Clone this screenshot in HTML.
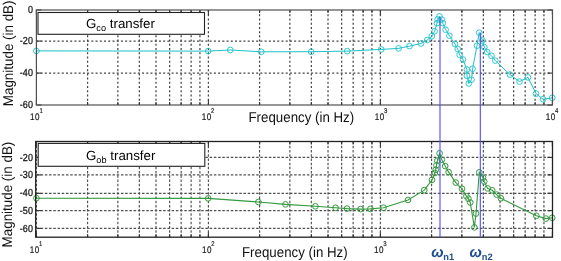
<!DOCTYPE html><html><head><meta charset="utf-8"><style>html,body{margin:0;padding:0;background:#fff;width:561px;height:261px;overflow:hidden}svg{display:block;filter:blur(0.25px)}text{font-family:"Liberation Sans",Arial,sans-serif;text-rendering:geometricPrecision}</style></head><body>
<svg width="561" height="261" viewBox="0 0 561 261">
<rect width="561" height="261" fill="#fff"/>
<g stroke="#444" stroke-width="1.25" stroke-dasharray="2,2.226"><line x1="87.58" y1="10.00" x2="87.58" y2="105.00"/><line x1="117.86" y1="10.00" x2="117.86" y2="105.00"/><line x1="139.35" y1="10.00" x2="139.35" y2="105.00"/><line x1="156.02" y1="10.00" x2="156.02" y2="105.00"/><line x1="169.64" y1="10.00" x2="169.64" y2="105.00"/><line x1="181.16" y1="10.00" x2="181.16" y2="105.00"/><line x1="191.13" y1="10.00" x2="191.13" y2="105.00"/><line x1="199.93" y1="10.00" x2="199.93" y2="105.00"/><line x1="208.40" y1="10.00" x2="208.40" y2="105.00"/><line x1="259.58" y1="10.00" x2="259.58" y2="105.00"/><line x1="289.86" y1="10.00" x2="289.86" y2="105.00"/><line x1="311.35" y1="10.00" x2="311.35" y2="105.00"/><line x1="328.02" y1="10.00" x2="328.02" y2="105.00"/><line x1="341.64" y1="10.00" x2="341.64" y2="105.00"/><line x1="353.16" y1="10.00" x2="353.16" y2="105.00"/><line x1="363.13" y1="10.00" x2="363.13" y2="105.00"/><line x1="371.93" y1="10.00" x2="371.93" y2="105.00"/><line x1="380.40" y1="10.00" x2="380.40" y2="105.00"/><line x1="431.58" y1="10.00" x2="431.58" y2="105.00"/><line x1="461.86" y1="10.00" x2="461.86" y2="105.00"/><line x1="483.35" y1="10.00" x2="483.35" y2="105.00"/><line x1="500.02" y1="10.00" x2="500.02" y2="105.00"/><line x1="513.64" y1="10.00" x2="513.64" y2="105.00"/><line x1="525.16" y1="10.00" x2="525.16" y2="105.00"/><line x1="535.13" y1="10.00" x2="535.13" y2="105.00"/><line x1="543.93" y1="10.00" x2="543.93" y2="105.00"/><line x1="36.40" y1="41.10" x2="552.50" y2="41.10"/><line x1="36.40" y1="73.10" x2="552.50" y2="73.10"/></g>
<g stroke="#333" stroke-width="1.1"><line x1="87.58" y1="105.00" x2="87.58" y2="102.00"/><line x1="87.58" y1="10.00" x2="87.58" y2="13.00"/><line x1="117.86" y1="105.00" x2="117.86" y2="102.00"/><line x1="117.86" y1="10.00" x2="117.86" y2="13.00"/><line x1="139.35" y1="105.00" x2="139.35" y2="102.00"/><line x1="139.35" y1="10.00" x2="139.35" y2="13.00"/><line x1="156.02" y1="105.00" x2="156.02" y2="102.00"/><line x1="156.02" y1="10.00" x2="156.02" y2="13.00"/><line x1="169.64" y1="105.00" x2="169.64" y2="102.00"/><line x1="169.64" y1="10.00" x2="169.64" y2="13.00"/><line x1="181.16" y1="105.00" x2="181.16" y2="102.00"/><line x1="181.16" y1="10.00" x2="181.16" y2="13.00"/><line x1="191.13" y1="105.00" x2="191.13" y2="102.00"/><line x1="191.13" y1="10.00" x2="191.13" y2="13.00"/><line x1="199.93" y1="105.00" x2="199.93" y2="102.00"/><line x1="199.93" y1="10.00" x2="199.93" y2="13.00"/><line x1="208.40" y1="105.00" x2="208.40" y2="100.00"/><line x1="208.40" y1="10.00" x2="208.40" y2="15.00"/><line x1="259.58" y1="105.00" x2="259.58" y2="102.00"/><line x1="259.58" y1="10.00" x2="259.58" y2="13.00"/><line x1="289.86" y1="105.00" x2="289.86" y2="102.00"/><line x1="289.86" y1="10.00" x2="289.86" y2="13.00"/><line x1="311.35" y1="105.00" x2="311.35" y2="102.00"/><line x1="311.35" y1="10.00" x2="311.35" y2="13.00"/><line x1="328.02" y1="105.00" x2="328.02" y2="102.00"/><line x1="328.02" y1="10.00" x2="328.02" y2="13.00"/><line x1="341.64" y1="105.00" x2="341.64" y2="102.00"/><line x1="341.64" y1="10.00" x2="341.64" y2="13.00"/><line x1="353.16" y1="105.00" x2="353.16" y2="102.00"/><line x1="353.16" y1="10.00" x2="353.16" y2="13.00"/><line x1="363.13" y1="105.00" x2="363.13" y2="102.00"/><line x1="363.13" y1="10.00" x2="363.13" y2="13.00"/><line x1="371.93" y1="105.00" x2="371.93" y2="102.00"/><line x1="371.93" y1="10.00" x2="371.93" y2="13.00"/><line x1="380.40" y1="105.00" x2="380.40" y2="100.00"/><line x1="380.40" y1="10.00" x2="380.40" y2="15.00"/><line x1="431.58" y1="105.00" x2="431.58" y2="102.00"/><line x1="431.58" y1="10.00" x2="431.58" y2="13.00"/><line x1="461.86" y1="105.00" x2="461.86" y2="102.00"/><line x1="461.86" y1="10.00" x2="461.86" y2="13.00"/><line x1="483.35" y1="105.00" x2="483.35" y2="102.00"/><line x1="483.35" y1="10.00" x2="483.35" y2="13.00"/><line x1="500.02" y1="105.00" x2="500.02" y2="102.00"/><line x1="500.02" y1="10.00" x2="500.02" y2="13.00"/><line x1="513.64" y1="105.00" x2="513.64" y2="102.00"/><line x1="513.64" y1="10.00" x2="513.64" y2="13.00"/><line x1="525.16" y1="105.00" x2="525.16" y2="102.00"/><line x1="525.16" y1="10.00" x2="525.16" y2="13.00"/><line x1="535.13" y1="105.00" x2="535.13" y2="102.00"/><line x1="535.13" y1="10.00" x2="535.13" y2="13.00"/><line x1="543.93" y1="105.00" x2="543.93" y2="102.00"/><line x1="543.93" y1="10.00" x2="543.93" y2="13.00"/><line x1="36.40" y1="105.00" x2="36.40" y2="100.00"/><line x1="36.40" y1="10.00" x2="36.40" y2="15.00"/><line x1="552.40" y1="105.00" x2="552.40" y2="100.00"/><line x1="552.40" y1="10.00" x2="552.40" y2="15.00"/><line x1="36.40" y1="10.00" x2="41.40" y2="10.00"/><line x1="552.50" y1="10.00" x2="547.50" y2="10.00"/><line x1="36.40" y1="41.10" x2="41.40" y2="41.10"/><line x1="552.50" y1="41.10" x2="547.50" y2="41.10"/><line x1="36.40" y1="73.10" x2="41.40" y2="73.10"/><line x1="552.50" y1="73.10" x2="547.50" y2="73.10"/><line x1="36.40" y1="105.00" x2="41.40" y2="105.00"/><line x1="552.50" y1="105.00" x2="547.50" y2="105.00"/></g>
<polyline fill="none" stroke="#1cc0c8" stroke-width="1.0" points="36.4,50.9 208.2,51.1 230.3,50.0 261.3,51.8 311.2,51.7 347.2,51.1 381.2,49.4 398.6,48.4 409.5,46.1 421.0,43.5 427.2,40.0 431.8,36.2 434.6,31.3 437.0,23.2 437.7,19.5 439.5,16.4 441.7,19.5 442.8,23.2 445.6,29.7 449.4,35.7 455.0,44.0 457.7,49.0 459.6,54.8 463.0,59.6 466.9,69.5 466.9,75.8 468.8,83.5 471.5,79.7 472.6,68.8 477.0,45.7 479.2,32.7 482.5,40.5 484.4,47.2 487.2,52.0 491.5,55.8 495.3,60.6 510.0,74.6 519.5,81.6 528.0,77.4 536.0,93.6 543.1,99.3 552.2,97.8"/>
<g fill="none" stroke="#28c4ca" stroke-width="0.95"><circle cx="36.4" cy="50.9" r="2.85"/><circle cx="208.2" cy="51.1" r="2.85"/><circle cx="230.3" cy="50.0" r="2.85"/><circle cx="261.3" cy="51.8" r="2.85"/><circle cx="311.2" cy="51.7" r="2.85"/><circle cx="347.2" cy="51.1" r="2.85"/><circle cx="381.2" cy="49.4" r="2.85"/><circle cx="398.6" cy="48.4" r="2.85"/><circle cx="409.5" cy="46.1" r="2.85"/><circle cx="421.0" cy="43.5" r="2.85"/><circle cx="427.2" cy="40.0" r="2.85"/><circle cx="431.8" cy="36.2" r="2.85"/><circle cx="434.6" cy="31.3" r="2.85"/><circle cx="437.0" cy="23.2" r="2.85"/><circle cx="437.7" cy="19.5" r="2.85"/><circle cx="439.5" cy="16.4" r="2.85"/><circle cx="441.7" cy="19.5" r="2.85"/><circle cx="442.8" cy="23.2" r="2.85"/><circle cx="445.6" cy="29.7" r="2.85"/><circle cx="449.4" cy="35.7" r="2.85"/><circle cx="455.0" cy="44.0" r="2.85"/><circle cx="457.7" cy="49.0" r="2.85"/><circle cx="459.6" cy="54.8" r="2.85"/><circle cx="463.0" cy="59.6" r="2.85"/><circle cx="466.9" cy="69.5" r="2.85"/><circle cx="466.9" cy="75.8" r="2.85"/><circle cx="468.8" cy="83.5" r="2.85"/><circle cx="471.5" cy="79.7" r="2.85"/><circle cx="472.6" cy="68.8" r="2.85"/><circle cx="477.0" cy="45.7" r="2.85"/><circle cx="479.2" cy="32.7" r="2.85"/><circle cx="482.5" cy="40.5" r="2.85"/><circle cx="484.4" cy="47.2" r="2.85"/><circle cx="487.2" cy="52.0" r="2.85"/><circle cx="491.5" cy="55.8" r="2.85"/><circle cx="495.3" cy="60.6" r="2.85"/><circle cx="510.0" cy="74.6" r="2.85"/><circle cx="519.5" cy="81.6" r="2.85"/><circle cx="528.0" cy="77.4" r="2.85"/><circle cx="536.0" cy="93.6" r="2.85"/><circle cx="543.1" cy="99.3" r="2.85"/><circle cx="552.2" cy="97.8" r="2.85"/></g>
<rect x="36.40" y="10.00" width="516.10" height="95.00" fill="none" stroke="#505050" stroke-width="1.2"/>
<g stroke="#505050" stroke-width="1.15" stroke-dasharray="2.5,1.726"><line x1="36.40" y1="141.50" x2="36.40" y2="237.20"/><line x1="87.58" y1="141.50" x2="87.58" y2="237.20"/><line x1="117.86" y1="141.50" x2="117.86" y2="237.20"/><line x1="139.35" y1="141.50" x2="139.35" y2="237.20"/><line x1="156.02" y1="141.50" x2="156.02" y2="237.20"/><line x1="169.64" y1="141.50" x2="169.64" y2="237.20"/><line x1="181.16" y1="141.50" x2="181.16" y2="237.20"/><line x1="191.13" y1="141.50" x2="191.13" y2="237.20"/><line x1="199.93" y1="141.50" x2="199.93" y2="237.20"/><line x1="208.40" y1="141.50" x2="208.40" y2="237.20"/><line x1="259.58" y1="141.50" x2="259.58" y2="237.20"/><line x1="289.86" y1="141.50" x2="289.86" y2="237.20"/><line x1="311.35" y1="141.50" x2="311.35" y2="237.20"/><line x1="328.02" y1="141.50" x2="328.02" y2="237.20"/><line x1="341.64" y1="141.50" x2="341.64" y2="237.20"/><line x1="353.16" y1="141.50" x2="353.16" y2="237.20"/><line x1="363.13" y1="141.50" x2="363.13" y2="237.20"/><line x1="371.93" y1="141.50" x2="371.93" y2="237.20"/><line x1="380.40" y1="141.50" x2="380.40" y2="237.20"/><line x1="431.58" y1="141.50" x2="431.58" y2="237.20"/><line x1="461.86" y1="141.50" x2="461.86" y2="237.20"/><line x1="483.35" y1="141.50" x2="483.35" y2="237.20"/><line x1="500.02" y1="141.50" x2="500.02" y2="237.20"/><line x1="513.64" y1="141.50" x2="513.64" y2="237.20"/><line x1="525.16" y1="141.50" x2="525.16" y2="237.20"/><line x1="535.13" y1="141.50" x2="535.13" y2="237.20"/><line x1="543.93" y1="141.50" x2="543.93" y2="237.20"/><line x1="36.40" y1="157.40" x2="552.50" y2="157.40"/><line x1="36.40" y1="174.90" x2="552.50" y2="174.90"/><line x1="36.40" y1="193.30" x2="552.50" y2="193.30"/><line x1="36.40" y1="210.60" x2="552.50" y2="210.60"/><line x1="36.40" y1="228.40" x2="552.50" y2="228.40"/></g>
<g stroke="#333" stroke-width="1.1"><line x1="87.58" y1="237.20" x2="87.58" y2="234.20"/><line x1="87.58" y1="141.50" x2="87.58" y2="144.50"/><line x1="117.86" y1="237.20" x2="117.86" y2="234.20"/><line x1="117.86" y1="141.50" x2="117.86" y2="144.50"/><line x1="139.35" y1="237.20" x2="139.35" y2="234.20"/><line x1="139.35" y1="141.50" x2="139.35" y2="144.50"/><line x1="156.02" y1="237.20" x2="156.02" y2="234.20"/><line x1="156.02" y1="141.50" x2="156.02" y2="144.50"/><line x1="169.64" y1="237.20" x2="169.64" y2="234.20"/><line x1="169.64" y1="141.50" x2="169.64" y2="144.50"/><line x1="181.16" y1="237.20" x2="181.16" y2="234.20"/><line x1="181.16" y1="141.50" x2="181.16" y2="144.50"/><line x1="191.13" y1="237.20" x2="191.13" y2="234.20"/><line x1="191.13" y1="141.50" x2="191.13" y2="144.50"/><line x1="199.93" y1="237.20" x2="199.93" y2="234.20"/><line x1="199.93" y1="141.50" x2="199.93" y2="144.50"/><line x1="208.40" y1="237.20" x2="208.40" y2="232.20"/><line x1="208.40" y1="141.50" x2="208.40" y2="146.50"/><line x1="259.58" y1="237.20" x2="259.58" y2="234.20"/><line x1="259.58" y1="141.50" x2="259.58" y2="144.50"/><line x1="289.86" y1="237.20" x2="289.86" y2="234.20"/><line x1="289.86" y1="141.50" x2="289.86" y2="144.50"/><line x1="311.35" y1="237.20" x2="311.35" y2="234.20"/><line x1="311.35" y1="141.50" x2="311.35" y2="144.50"/><line x1="328.02" y1="237.20" x2="328.02" y2="234.20"/><line x1="328.02" y1="141.50" x2="328.02" y2="144.50"/><line x1="341.64" y1="237.20" x2="341.64" y2="234.20"/><line x1="341.64" y1="141.50" x2="341.64" y2="144.50"/><line x1="353.16" y1="237.20" x2="353.16" y2="234.20"/><line x1="353.16" y1="141.50" x2="353.16" y2="144.50"/><line x1="363.13" y1="237.20" x2="363.13" y2="234.20"/><line x1="363.13" y1="141.50" x2="363.13" y2="144.50"/><line x1="371.93" y1="237.20" x2="371.93" y2="234.20"/><line x1="371.93" y1="141.50" x2="371.93" y2="144.50"/><line x1="380.40" y1="237.20" x2="380.40" y2="232.20"/><line x1="380.40" y1="141.50" x2="380.40" y2="146.50"/><line x1="431.58" y1="237.20" x2="431.58" y2="234.20"/><line x1="431.58" y1="141.50" x2="431.58" y2="144.50"/><line x1="461.86" y1="237.20" x2="461.86" y2="234.20"/><line x1="461.86" y1="141.50" x2="461.86" y2="144.50"/><line x1="483.35" y1="237.20" x2="483.35" y2="234.20"/><line x1="483.35" y1="141.50" x2="483.35" y2="144.50"/><line x1="500.02" y1="237.20" x2="500.02" y2="234.20"/><line x1="500.02" y1="141.50" x2="500.02" y2="144.50"/><line x1="513.64" y1="237.20" x2="513.64" y2="234.20"/><line x1="513.64" y1="141.50" x2="513.64" y2="144.50"/><line x1="525.16" y1="237.20" x2="525.16" y2="234.20"/><line x1="525.16" y1="141.50" x2="525.16" y2="144.50"/><line x1="535.13" y1="237.20" x2="535.13" y2="234.20"/><line x1="535.13" y1="141.50" x2="535.13" y2="144.50"/><line x1="543.93" y1="237.20" x2="543.93" y2="234.20"/><line x1="543.93" y1="141.50" x2="543.93" y2="144.50"/><line x1="36.40" y1="237.20" x2="36.40" y2="232.20"/><line x1="36.40" y1="141.50" x2="36.40" y2="146.50"/><line x1="552.40" y1="237.20" x2="552.40" y2="232.20"/><line x1="552.40" y1="141.50" x2="552.40" y2="146.50"/><line x1="36.40" y1="157.40" x2="41.40" y2="157.40"/><line x1="552.50" y1="157.40" x2="547.50" y2="157.40"/><line x1="36.40" y1="174.90" x2="41.40" y2="174.90"/><line x1="552.50" y1="174.90" x2="547.50" y2="174.90"/><line x1="36.40" y1="193.30" x2="41.40" y2="193.30"/><line x1="552.50" y1="193.30" x2="547.50" y2="193.30"/><line x1="36.40" y1="210.60" x2="41.40" y2="210.60"/><line x1="552.50" y1="210.60" x2="547.50" y2="210.60"/><line x1="36.40" y1="228.40" x2="41.40" y2="228.40"/><line x1="552.50" y1="228.40" x2="547.50" y2="228.40"/></g>
<polyline fill="none" stroke="#349a3e" stroke-width="1.1" points="36.4,198.2 208.2,198.4 258.4,202.0 285.5,204.4 315.4,206.3 335.6,207.8 347.0,208.6 360.5,209.1 370.4,208.9 383.5,207.7 408.0,200.0 424.3,190.1 432.0,179.9 434.8,173.0 435.7,169.8 436.5,165.3 437.3,160.7 439.6,153.3 441.8,159.7 445.2,166.1 448.6,172.1 455.8,182.6 462.0,188.8 466.4,196.2 468.4,198.7 470.2,202.5 474.4,227.4 476.0,213.6 479.3,172.3 483.0,177.6 484.2,181.5 487.6,188.4 492.2,190.3 496.6,194.6 500.9,198.3 536.4,215.8 545.9,218.6 552.2,217.8"/>
<g fill="none" stroke="#349a3e" stroke-width="1.0"><circle cx="36.4" cy="198.2" r="2.85"/><circle cx="208.2" cy="198.4" r="2.85"/><circle cx="258.4" cy="202.0" r="2.85"/><circle cx="285.5" cy="204.4" r="2.85"/><circle cx="315.4" cy="206.3" r="2.85"/><circle cx="335.6" cy="207.8" r="2.85"/><circle cx="347.0" cy="208.6" r="2.85"/><circle cx="360.5" cy="209.1" r="2.85"/><circle cx="370.4" cy="208.9" r="2.85"/><circle cx="383.5" cy="207.7" r="2.85"/><circle cx="408.0" cy="200.0" r="2.85"/><circle cx="424.3" cy="190.1" r="2.85"/><circle cx="432.0" cy="179.9" r="2.85"/><circle cx="434.8" cy="173.0" r="2.85"/><circle cx="435.7" cy="169.8" r="2.85"/><circle cx="436.5" cy="165.3" r="2.85"/><circle cx="437.3" cy="160.7" r="2.85"/><circle cx="439.6" cy="153.3" r="2.85"/><circle cx="441.8" cy="159.7" r="2.85"/><circle cx="445.2" cy="166.1" r="2.85"/><circle cx="448.6" cy="172.1" r="2.85"/><circle cx="455.8" cy="182.6" r="2.85"/><circle cx="462.0" cy="188.8" r="2.85"/><circle cx="466.4" cy="196.2" r="2.85"/><circle cx="468.4" cy="198.7" r="2.85"/><circle cx="470.2" cy="202.5" r="2.85"/><circle cx="474.4" cy="227.4" r="2.85"/><circle cx="476.0" cy="213.6" r="2.85"/><circle cx="479.3" cy="172.3" r="2.85"/><circle cx="483.0" cy="177.6" r="2.85"/><circle cx="484.2" cy="181.5" r="2.85"/><circle cx="487.6" cy="188.4" r="2.85"/><circle cx="492.2" cy="190.3" r="2.85"/><circle cx="496.6" cy="194.6" r="2.85"/><circle cx="500.9" cy="198.3" r="2.85"/><circle cx="536.4" cy="215.8" r="2.85"/><circle cx="545.9" cy="218.6" r="2.85"/><circle cx="552.2" cy="217.8" r="2.85"/></g>
<rect x="35.70" y="141.50" width="516.80" height="95.70" fill="none" stroke="#222" stroke-width="1.3"/>
<g stroke="#4b4bff" stroke-width="1.1">
<line x1="440.0" y1="17.0" x2="440.0" y2="237.2"/>
<line x1="480.3" y1="32.5" x2="480.3" y2="237.2"/>
</g>
<rect x="38.0" y="12.5" width="166.5" height="21.799999999999997" fill="#fff" stroke="#222" stroke-width="1.1"/>
<text x="86.0" y="28.0" font-size="13.3" fill="#000">G<tspan font-size="9.2" dy="2.8">co</tspan><tspan dy="-2.8"> transfer</tspan></text>
<rect x="38.2" y="143.4" width="166.60000000000002" height="22.900000000000006" fill="#fff" stroke="#222" stroke-width="1.1"/>
<text x="86.0" y="160.2" font-size="13.3" fill="#000">G<tspan font-size="9.2" dy="2.8">ob</tspan><tspan dy="-2.8"> transfer</tspan></text>
<text transform="translate(33.1,13.10) scale(0.88,1)" text-anchor="end" font-size="10.2" fill="#1a1a1a" letter-spacing="0.15" stroke="#1a1a1a" stroke-width="0.3">0</text>
<text transform="translate(33.1,44.20) scale(0.88,1)" text-anchor="end" font-size="10.2" fill="#1a1a1a" letter-spacing="0.15" stroke="#1a1a1a" stroke-width="0.3">-20</text>
<text transform="translate(33.1,76.20) scale(0.88,1)" text-anchor="end" font-size="10.2" fill="#1a1a1a" letter-spacing="0.15" stroke="#1a1a1a" stroke-width="0.3">-40</text>
<text transform="translate(33.1,108.10) scale(0.88,1)" text-anchor="end" font-size="10.2" fill="#1a1a1a" letter-spacing="0.15" stroke="#1a1a1a" stroke-width="0.3">-60</text>
<text transform="translate(33.1,160.50) scale(0.88,1)" text-anchor="end" font-size="10.2" fill="#1a1a1a" letter-spacing="0.15" stroke="#1a1a1a" stroke-width="0.3">-20</text>
<text transform="translate(33.1,178.00) scale(0.88,1)" text-anchor="end" font-size="10.2" fill="#1a1a1a" letter-spacing="0.15" stroke="#1a1a1a" stroke-width="0.3">-30</text>
<text transform="translate(33.1,196.40) scale(0.88,1)" text-anchor="end" font-size="10.2" fill="#1a1a1a" letter-spacing="0.15" stroke="#1a1a1a" stroke-width="0.3">-40</text>
<text transform="translate(33.1,213.70) scale(0.88,1)" text-anchor="end" font-size="10.2" fill="#1a1a1a" letter-spacing="0.15" stroke="#1a1a1a" stroke-width="0.3">-50</text>
<text transform="translate(33.1,231.50) scale(0.88,1)" text-anchor="end" font-size="10.2" fill="#1a1a1a" letter-spacing="0.15" stroke="#1a1a1a" stroke-width="0.3">-60</text>
<text transform="translate(30.1,120.0) scale(0.85,1)" font-size="9.5" fill="#1a1a1a" letter-spacing="0.6" stroke="#1a1a1a" stroke-width="0.2">10<tspan font-size="7" dy="-7.3" dx="-0.8">1</tspan></text>
<text transform="translate(201.8,120.0) scale(0.85,1)" font-size="9.5" fill="#1a1a1a" letter-spacing="0.6" stroke="#1a1a1a" stroke-width="0.2">10<tspan font-size="7" dy="-7.3" dx="-0.8">2</tspan></text>
<text transform="translate(374.8,120.0) scale(0.85,1)" font-size="9.5" fill="#1a1a1a" letter-spacing="0.6" stroke="#1a1a1a" stroke-width="0.2">10<tspan font-size="7" dy="-7.3" dx="-0.8">3</tspan></text>
<text transform="translate(545.8,120.0) scale(0.85,1)" font-size="9.5" fill="#1a1a1a" letter-spacing="0.6" stroke="#1a1a1a" stroke-width="0.2">10<tspan font-size="7" dy="-7.3" dx="-0.8">4</tspan></text>
<text transform="translate(29.7,253.0) scale(0.85,1)" font-size="9.5" fill="#1a1a1a" letter-spacing="0.6" stroke="#1a1a1a" stroke-width="0.2">10<tspan font-size="7" dy="-7.3" dx="-0.8">1</tspan></text>
<text transform="translate(202.0,253.0) scale(0.85,1)" font-size="9.5" fill="#1a1a1a" letter-spacing="0.6" stroke="#1a1a1a" stroke-width="0.2">10<tspan font-size="7" dy="-7.3" dx="-0.8">2</tspan></text>
<text transform="translate(373.9,253.0) scale(0.85,1)" font-size="9.5" fill="#1a1a1a" letter-spacing="0.6" stroke="#1a1a1a" stroke-width="0.2">10<tspan font-size="7" dy="-7.3" dx="-0.8">3</tspan></text>
<text transform="translate(248.5,122) scale(1,1.08)" font-size="13.3" fill="#111">Frequency (in Hz)</text>
<text transform="translate(242.0,257) scale(1,1.08)" font-size="13.3" fill="#111">Frequency (in Hz)</text>
<text transform="translate(12.9,106.2) rotate(-90) scale(1,1.06)" font-size="13.4" fill="#111">Magnitude (in dB)</text>
<text transform="translate(11.9,247.4) rotate(-90) scale(1,1.06)" font-size="13.4" fill="#111">Magnitude (in dB)</text>
<g fill="#1f4d8f" font-weight="bold">
<text x="431.2" y="256.5" font-size="14.8" font-style="italic">ω</text><text x="443.3" y="259.6" font-size="9.3">n1</text>
<text x="469.6" y="256.5" font-size="14.8" font-style="italic">ω</text><text x="481.8" y="259.6" font-size="9.3">n2</text>
</g>
</svg></body></html>
